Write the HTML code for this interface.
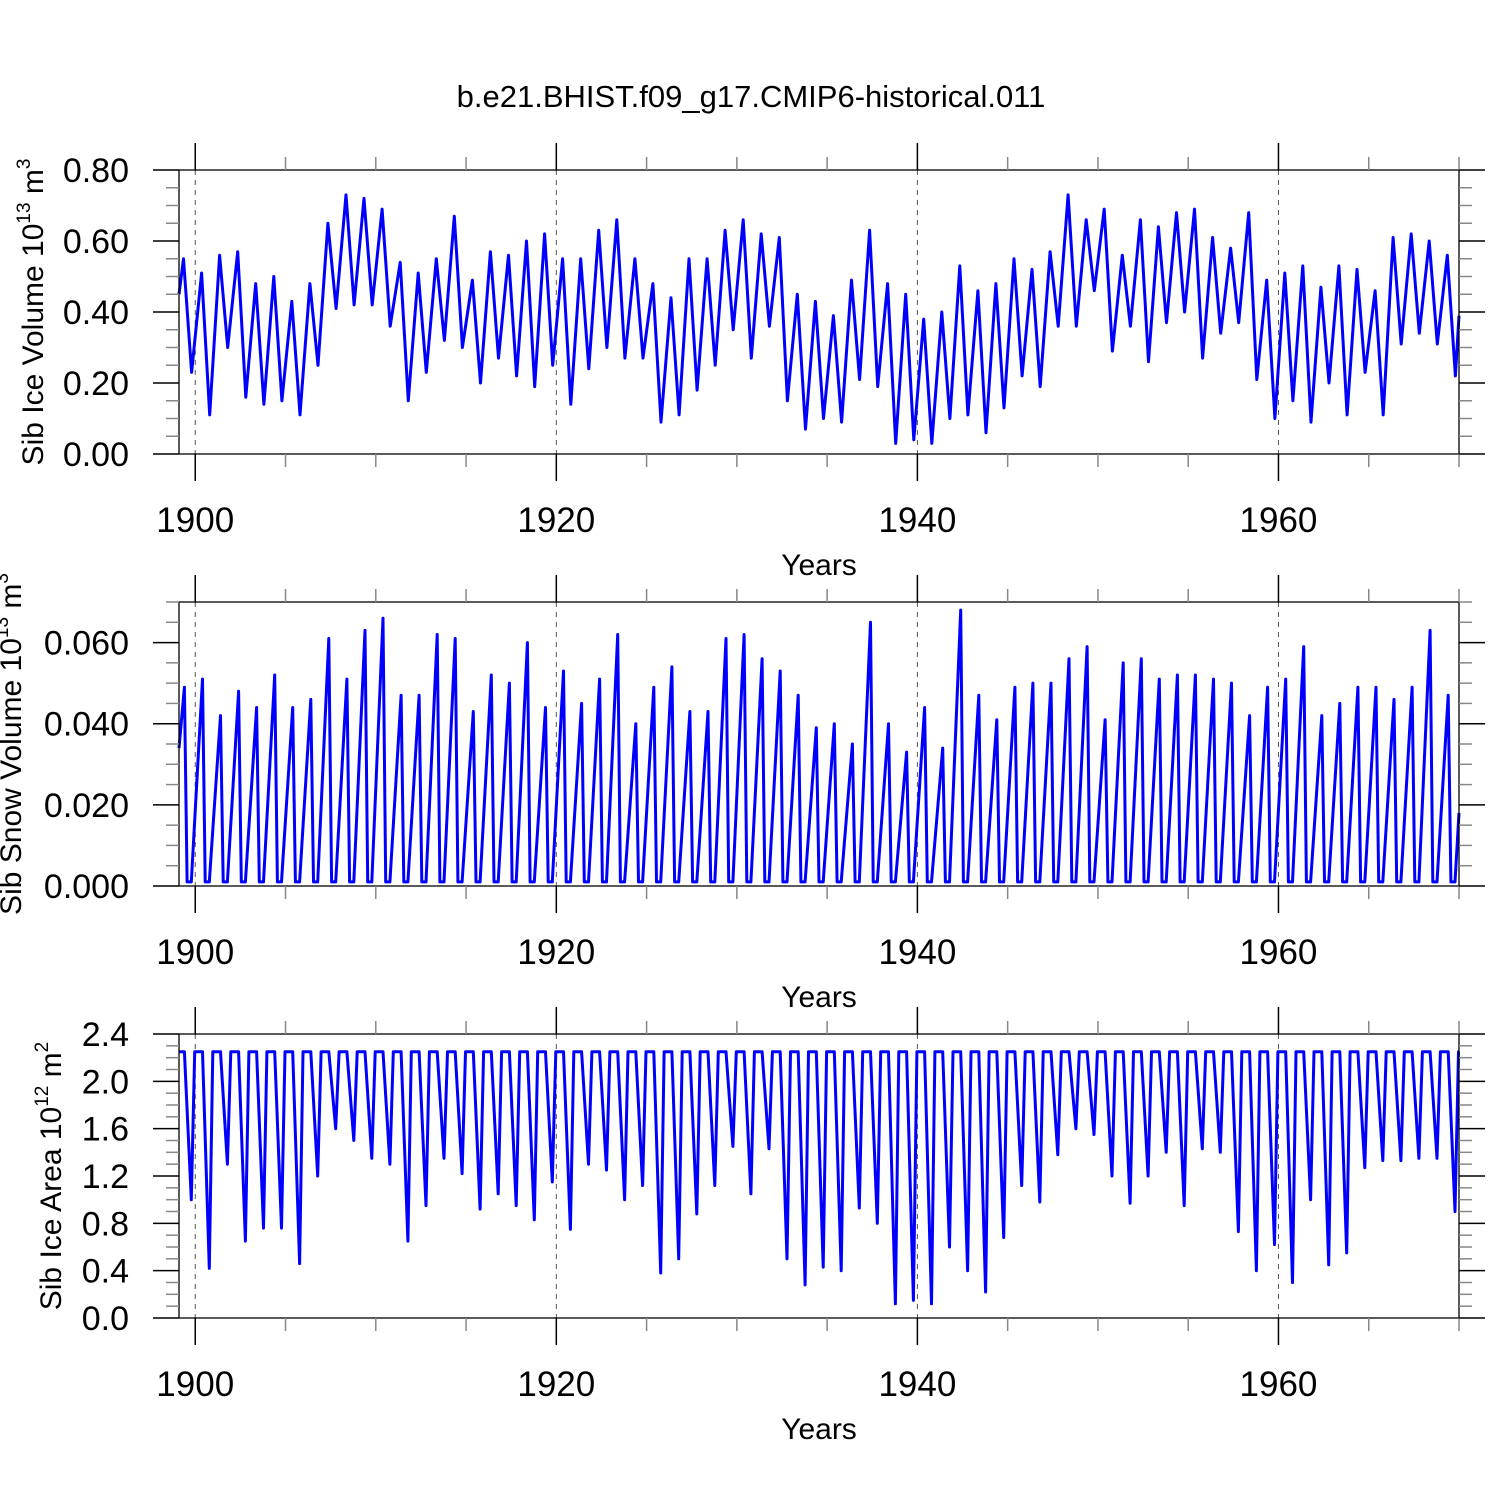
<!DOCTYPE html>
<html><head><meta charset="utf-8"><style>
html,body{margin:0;padding:0;background:#fff}
svg{display:block}
text{font-family:"Liberation Sans",sans-serif;fill:#000}
</style></head><body>
<svg id="chart" width="1500" height="1500" viewBox="0 0 1500 1500">
<text x="751" y="107" font-size="31" text-anchor="middle">b.e21.BHIST.f09_g17.CMIP6-historical.011</text>
</svg>
<script>
const years = [];
for (let y = 1899; y <= 1969; y++) years.push(y);
const icePeaks = [0.55,0.51,0.56,0.57,0.48,0.50,0.43,0.48,0.65,0.73,0.72,0.69,0.54,0.51,0.55,0.67,0.49,0.57,0.56,0.60,0.62,0.55,0.55,0.63,0.66,0.55,0.48,0.44,0.55,0.55,0.63,0.66,0.62,0.61,0.45,0.43,0.39,0.49,0.63,0.48,0.45,0.38,0.40,0.53,0.46,0.48,0.55,0.52,0.57,0.73,0.66,0.69,0.56,0.66,0.64,0.68,0.69,0.61,0.58,0.68,0.49,0.51,0.53,0.47,0.53,0.52,0.46,0.61,0.62,0.60,0.56];
const iceTroughs = [0.23,0.11,0.30,0.16,0.14,0.15,0.11,0.25,0.41,0.42,0.42,0.36,0.15,0.23,0.32,0.30,0.20,0.27,0.22,0.19,0.25,0.14,0.24,0.30,0.27,0.27,0.09,0.11,0.18,0.25,0.35,0.27,0.36,0.15,0.07,0.10,0.09,0.21,0.19,0.03,0.04,0.03,0.10,0.11,0.06,0.13,0.22,0.19,0.36,0.36,0.46,0.29,0.36,0.26,0.37,0.40,0.27,0.34,0.37,0.21,0.10,0.15,0.09,0.20,0.11,0.23,0.11,0.31,0.34,0.31,0.22];
const iceStart = 0.45, iceEnd = 0.39;
const snowPeaks = [0.049,0.051,0.042,0.048,0.044,0.052,0.044,0.046,0.061,0.051,0.063,0.066,0.047,0.047,0.062,0.061,0.043,0.052,0.050,0.060,0.044,0.053,0.045,0.051,0.062,0.040,0.049,0.054,0.043,0.043,0.061,0.062,0.056,0.053,0.047,0.039,0.040,0.035,0.065,0.040,0.033,0.044,0.034,0.068,0.047,0.041,0.049,0.050,0.050,0.056,0.059,0.041,0.055,0.056,0.051,0.052,0.052,0.051,0.050,0.042,0.049,0.051,0.059,0.042,0.045,0.049,0.049,0.046,0.049,0.063,0.047];
const snowStart = 0.034, snowEnd = 0.018;
const areaMins = [1.0,0.42,1.3,0.65,0.76,0.76,0.46,1.2,1.6,1.5,1.35,1.3,0.65,0.95,1.35,1.22,0.92,1.05,0.95,0.83,1.15,0.75,1.3,1.25,1.0,1.12,0.38,0.5,0.88,1.12,1.45,1.05,1.43,0.5,0.28,0.43,0.40,0.93,0.80,0.12,0.15,0.12,0.6,0.4,0.22,0.68,1.12,0.98,1.38,1.6,1.55,1.2,0.97,1.2,1.4,0.95,1.43,1.4,0.73,0.40,0.62,0.30,1.0,0.45,0.55,1.27,1.33,1.33,1.35,1.35,0.9];
const areaMax = 2.25;
const xTickLabels = [1900,1920,1940,1960];

const NS='http://www.w3.org/2000/svg';
const svg=document.getElementById('chart');
const X0=179,X1=1459,T0=1899.1,T1=1970.0;
const xs=t=>X0+(t-T0)/(T1-T0)*(X1-X0);
function mk(tag,attrs,parent){const e=document.createElementNS(NS,tag);for(const k in attrs)e.setAttribute(k,attrs[k]);(parent||svg).appendChild(e);return e;}

function panel(id,top,bot,ymin,ymax,major,minor,fmt,ylabelHTML,pts){
  const g=mk('g',{});
  
  
  const ys=v=>bot-(v-ymin)/(ymax-ymin)*(bot-top);
  xTickLabels.forEach(yr=>{
    const l=mk('line',{x1:xs(yr),x2:xs(yr),y1:top,y2:bot,stroke:'#555','stroke-width':1,'stroke-dasharray':'5,5'},g);
    
    
  });
  const d=pts.map((p,i)=>(i?'L':'M')+xs(p[0]).toFixed(1)+','+ys(p[1]).toFixed(1)).join('');
  const path=mk('path',{d:d,fill:'none',stroke:'#0000ff','stroke-width':3,'stroke-linejoin':'round'},g);
  
  
  const fr=mk('rect',{x:X0,y:top,width:X1-X0,height:bot-top,fill:'none',stroke:'#000','stroke-width':1.3},g);
  
  
  for(let yr=1900;yr<=1970;yr+=5){
    const maj=yr%20===0, L=maj?27:13, x=xs(yr);
    mk('line',{x1:x,x2:x,y1:top,y2:top-L,stroke:maj?'#000':'#888','stroke-width':1.5},g);
    mk('line',{x1:x,x2:x,y1:bot,y2:bot+L,stroke:maj?'#000':'#888','stroke-width':1.5},g);
    if(maj){
      const t=mk('text',{x:x,y:bot+78,'font-size':35,'text-anchor':'middle'},g);
      t.textContent=yr;
      
      
    }
  }
  const n=Math.round((ymax-ymin)/minor);
  for(let i=0;i<=n;i++){
    const v=ymin+i*minor, y=ys(v);
    const maj=Math.abs(v/major-Math.round(v/major))<1e-6, L=maj?26:13;
    mk('line',{x1:X0,x2:X0-L,y1:y,y2:y,stroke:maj?'#000':'#888','stroke-width':1.5},g);
    mk('line',{x1:X1,x2:X1+L,y1:y,y2:y,stroke:maj?'#000':'#888','stroke-width':1.5},g);
    if(maj){
      const t=mk('text',{x:129,y:y+12,'font-size':34,'text-anchor':'end'},g);
      t.textContent=fmt(v);
      
      
    }
  }
  const xt=mk('text',{x:819,y:bot+121,'font-size':30,'text-anchor':'middle'},g);
  xt.textContent='Years';
  
  
  const yt=mk('text',{x:0,y:0,'font-size':30,'text-anchor':'middle',transform:`translate(${ylabelHTML[1]},${(top+bot)/2}) rotate(-90)`},g);
  yt.innerHTML=ylabelHTML[0];
  
  
}

const icePts=[[T0,iceStart]];
years.forEach((y,i)=>{icePts.push([y+0.35,icePeaks[i]]);icePts.push([y+0.8,iceTroughs[i]]);});
icePts.push([T1,iceEnd]);
const snowPts=[[T0,snowStart]];
years.forEach((y,i)=>{snowPts.push([y+0.4,snowPeaks[i]]);snowPts.push([y+0.55,0.001]);snowPts.push([y+0.78,0.001]);});
snowPts.push([T1,snowEnd]);
const areaPts=[[T0,areaMax]];
years.forEach((y,i)=>{areaPts.push([Math.max(y+0.05,T0),areaMax]);areaPts.push([y+0.4,areaMax]);areaPts.push([y+0.78,areaMins[i]]);areaPts.push([y+0.97,areaMax]);});
areaPts.push([T1,areaMax]);

panel('ice-volume',170,454,0,0.8,0.2,0.05,v=>v.toFixed(2),['Sib Ice Volume 10<tspan dy="-13" font-size="19">13</tspan><tspan dy="13"> m</tspan><tspan dy="-13" font-size="19">3</tspan>',43],icePts);
panel('snow-volume',602,886,0,0.07,0.02,0.005,v=>v.toFixed(3),['Sib Snow Volume 10<tspan dy="-13" font-size="19">13</tspan><tspan dy="13"> m</tspan><tspan dy="-13" font-size="19">3</tspan>',21],snowPts);
panel('ice-area',1034,1318,0,2.4,0.4,0.1,v=>v.toFixed(1),['Sib Ice Area 10<tspan dy="-13" font-size="19">12</tspan><tspan dy="13"> m</tspan><tspan dy="-13" font-size="19">2</tspan>',61],areaPts);
</script>
</body></html>
